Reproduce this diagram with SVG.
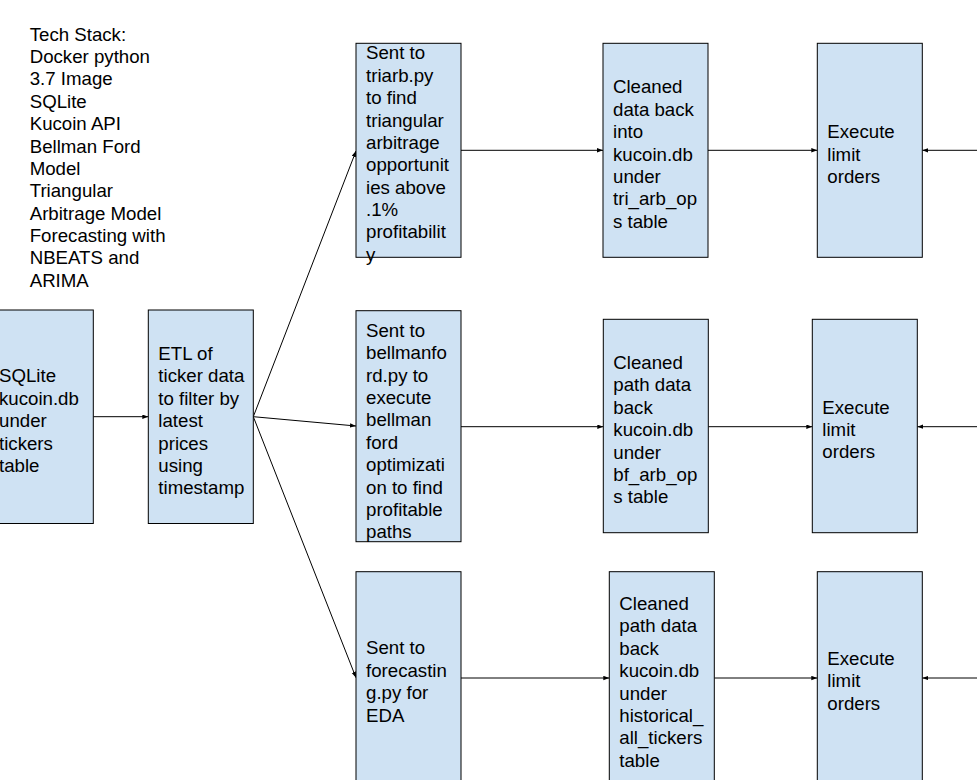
<svg xmlns="http://www.w3.org/2000/svg" width="977" height="780" viewBox="0 0 977 780">
<style>
.box{fill:#cfe2f3;stroke:#000;stroke-width:1}
.t{font-family:"Liberation Sans",Arial,sans-serif;font-size:18.67px;fill:#000}
.c{fill:none;stroke:#000;stroke-width:1}
</style>
<defs>
<marker id="ah" markerUnits="userSpaceOnUse" markerWidth="8" markerHeight="6" refX="6" refY="2.2" orient="auto">
<path d="M0,0 L6,2.2 L0,4.4 z" fill="#000"/>
</marker>
</defs>
<rect width="977" height="780" fill="#fff"/>
<g id="techstack">
<text class="t" x="29.7" y="40.5"><tspan x="29.7">Tech Stack:</tspan><tspan x="29.7" dy="22.4">Docker python</tspan><tspan x="29.7" dy="22.4">3.7 Image</tspan><tspan x="29.7" dy="22.4">SQLite</tspan><tspan x="29.7" dy="22.4">Kucoin API</tspan><tspan x="29.7" dy="22.4">Bellman Ford</tspan><tspan x="29.7" dy="22.4">Model</tspan><tspan x="29.7" dy="22.4">Triangular</tspan><tspan x="29.7" dy="22.4">Arbitrage Model</tspan><tspan x="29.7" dy="22.4">Forecasting with</tspan><tspan x="29.7" dy="22.4">NBEATS and</tspan><tspan x="29.7" dy="22.4">ARIMA</tspan></text>
</g>
<g id="connectors">
<path class="c" d="M93.3,416.7 H148.3" marker-end="url(#ah)"/>
<path class="c" d="M253.3,416.7 L356,151" marker-end="url(#ah)"/>
<path class="c" d="M253.3,416.7 L356,426" marker-end="url(#ah)"/>
<path class="c" d="M253.3,416.7 L356,677.7" marker-end="url(#ah)"/>
<path class="c" d="M461,150.3 H603" marker-end="url(#ah)"/>
<path class="c" d="M708,150.3 H817.3" marker-end="url(#ah)"/>
<path class="c" d="M980,150.3 H922.3" marker-end="url(#ah)"/>
<path class="c" d="M461,426.7 H603.3" marker-end="url(#ah)"/>
<path class="c" d="M708.3,426.7 H812.3" marker-end="url(#ah)"/>
<path class="c" d="M980,426.7 H917.3" marker-end="url(#ah)"/>
<path class="c" d="M461,678 H609.3" marker-end="url(#ah)"/>
<path class="c" d="M714.3,678 H817.3" marker-end="url(#ah)"/>
<path class="c" d="M980,678 H922.3" marker-end="url(#ah)"/>
</g>
<g id="sqlite">
<rect class="box" x="-11.7" y="310" width="105" height="213.5"/>
<text class="t" y="382.3"><tspan x="-1">SQLite</tspan><tspan x="-1" dy="22.4">kucoin.db</tspan><tspan x="-1" dy="22.4">under</tspan><tspan x="-1" dy="22.4">tickers</tspan><tspan x="-1" dy="22.4">table</tspan></text>
</g>
<g id="etl">
<rect class="box" x="148.3" y="310" width="105" height="213.5"/>
<text class="t" y="360"><tspan x="158.3">ETL of</tspan><tspan x="158.3" dy="22.4">ticker data</tspan><tspan x="158.3" dy="22.4">to filter by</tspan><tspan x="158.3" dy="22.4">latest</tspan><tspan x="158.3" dy="22.4">prices</tspan><tspan x="158.3" dy="22.4">using</tspan><tspan x="158.3" dy="22.4">timestamp</tspan></text>
</g>
<g id="triarb">
<rect class="box" x="356" y="43.3" width="105" height="214"/>
<text class="t" y="59.3"><tspan x="366">Sent to</tspan><tspan x="366" dy="22.4">triarb.py</tspan><tspan x="366" dy="22.4">to find</tspan><tspan x="366" dy="22.4">triangular</tspan><tspan x="366" dy="22.4">arbitrage</tspan><tspan x="366" dy="22.4">opportunit</tspan><tspan x="366" dy="22.4">ies above</tspan><tspan x="366" dy="22.4">.1%</tspan><tspan x="366" dy="22.4">profitabilit</tspan><tspan x="366" dy="22.4">y</tspan></text>
</g>
<g id="cleaned1">
<rect class="box" x="603" y="43.3" width="105" height="214"/>
<text class="t" y="93.4"><tspan x="613">Cleaned</tspan><tspan x="613" dy="22.4">data back</tspan><tspan x="613" dy="22.4">into</tspan><tspan x="613" dy="22.4">kucoin.db</tspan><tspan x="613" dy="22.4">under</tspan><tspan x="613" dy="22.4">tri_arb_op</tspan><tspan x="613" dy="22.4">s table</tspan></text>
</g>
<g id="execute1">
<rect class="box" x="817.3" y="43.3" width="105" height="214"/>
<text class="t" y="138.2"><tspan x="827.3">Execute</tspan><tspan x="827.3" dy="22.4">limit</tspan><tspan x="827.3" dy="22.4">orders</tspan></text>
</g>
<g id="bellman">
<rect class="box" x="356" y="310.7" width="105" height="231"/>
<text class="t" y="336.7"><tspan x="366">Sent to</tspan><tspan x="366" dy="22.4">bellmanfo</tspan><tspan x="366" dy="22.4">rd.py to</tspan><tspan x="366" dy="22.4">execute</tspan><tspan x="366" dy="22.4">bellman</tspan><tspan x="366" dy="22.4">ford</tspan><tspan x="366" dy="22.4">optimizati</tspan><tspan x="366" dy="22.4">on to find</tspan><tspan x="366" dy="22.4">profitable</tspan><tspan x="366" dy="22.4">paths</tspan></text>
</g>
<g id="cleaned2">
<rect class="box" x="603.3" y="319.3" width="105" height="213.4"/>
<text class="t" y="369"><tspan x="613.3">Cleaned</tspan><tspan x="613.3" dy="22.4">path data</tspan><tspan x="613.3" dy="22.4">back</tspan><tspan x="613.3" dy="22.4">kucoin.db</tspan><tspan x="613.3" dy="22.4">under</tspan><tspan x="613.3" dy="22.4">bf_arb_op</tspan><tspan x="613.3" dy="22.4">s table</tspan></text>
</g>
<g id="execute2">
<rect class="box" x="812.3" y="319.3" width="105" height="213.4"/>
<text class="t" y="413.6"><tspan x="822.3">Execute</tspan><tspan x="822.3" dy="22.4">limit</tspan><tspan x="822.3" dy="22.4">orders</tspan></text>
</g>
<g id="forecast">
<rect class="box" x="356" y="571.7" width="105" height="212"/>
<text class="t" y="654.4"><tspan x="366">Sent to</tspan><tspan x="366" dy="22.4">forecastin</tspan><tspan x="366" dy="22.4">g.py for</tspan><tspan x="366" dy="22.4">EDA</tspan></text>
</g>
<g id="cleaned3">
<rect class="box" x="609.3" y="571.7" width="105" height="212"/>
<text class="t" y="610"><tspan x="619.3">Cleaned</tspan><tspan x="619.3" dy="22.4">path data</tspan><tspan x="619.3" dy="22.4">back</tspan><tspan x="619.3" dy="22.4">kucoin.db</tspan><tspan x="619.3" dy="22.4">under</tspan><tspan x="619.3" dy="22.4">historical_</tspan><tspan x="619.3" dy="22.4">all_tickers</tspan><tspan x="619.3" dy="22.4">table</tspan></text>
</g>
<g id="execute3">
<rect class="box" x="817.3" y="571.7" width="105" height="212"/>
<text class="t" y="665"><tspan x="827.3">Execute</tspan><tspan x="827.3" dy="22.4">limit</tspan><tspan x="827.3" dy="22.4">orders</tspan></text>
</g>
</svg>
